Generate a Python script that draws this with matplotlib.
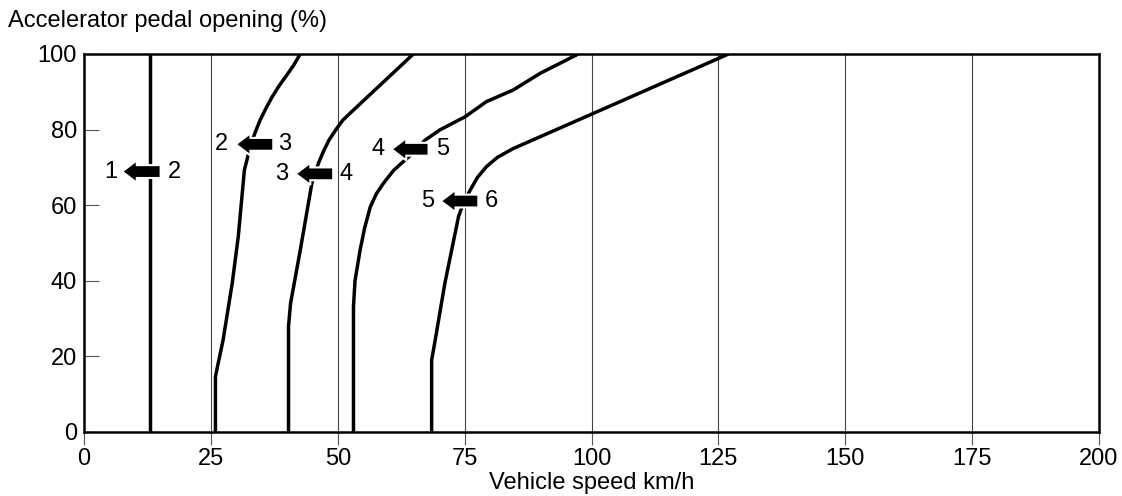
import matplotlib
matplotlib.use("Agg")
import matplotlib.pyplot as plt
from matplotlib.patches import FancyArrow

plt.rcParams['font.family'] = ['Liberation Sans', 'DejaVu Sans']

# Shift lines: vehicle speed (km/h) vs accelerator pedal opening (%)
s12_x = [13.0, 13.0]
s12_y = [0, 100]

s23_x = [25.9, 25.9, 26.3, 27.4, 29.2, 30.4, 31.6, 32.3, 33.0, 33.8, 34.7, 35.8,
         37.0, 38.4, 40.0, 41.3, 42.6]
s23_y = [0, 14.6, 17.3, 24.3, 39.3, 51.7, 69.3, 73.0, 76.5, 79.5, 82.5, 85.5,
         88.5, 91.5, 94.5, 97.0, 100]

s34_x = [40.3, 40.3, 40.7, 42.6, 44.9, 46.2, 47.2, 48.3, 49.8, 51.0, 52.4, 64.9]
s34_y = [0, 28.0, 34.0, 48.0, 65.8, 71.1, 74.3, 77.3, 80.3, 82.5, 84.3, 100]

s45_x = [53.1, 53.1, 53.4, 54.4, 55.3, 56.4, 57.6, 59.0, 61.0, 63.3, 65.0, 67.2, 70.1,
         75.1, 79.3, 84.6, 89.9, 97.4]
s45_y = [0, 33.2, 40.0, 48.1, 54.0, 59.5, 63.0, 65.8, 69.2, 72.0, 74.0, 77.2, 79.9,
         83.4, 87.4, 90.5, 94.9, 100]

s56_x = [68.5, 68.5, 69.2, 71.1, 73.8, 74.6, 76.1, 77.5, 79.3, 81.5, 84.6, 127.0]
s56_y = [0, 19.0, 24.3, 39.3, 57.0, 60.0, 64.0, 67.3, 70.2, 72.7, 75.0, 100]

# Shift arrows (downshift direction): y level, tail x, head x, gear labels
arrow_y = [68.9, 76.1, 68.3, 74.8, 61.1]
arrow_tail = [15.1, 37.3, 49.1, 67.9, 77.7]
arrow_head = [7.5, 29.9, 41.7, 60.6, 70.3]
gear_low = ["1", "2", "3", "4", "5"]
gear_high = ["2", "3", "4", "5", "6"]
low_x = [5.3, 27.1, 39.0, 58.0, 67.7]
high_x = [17.9, 39.6, 51.6, 70.6, 80.3]

x_ticks = [0, 25, 50, 75, 100, 125, 150, 175, 200]
y_ticks = [0, 20, 40, 60, 80, 100]

fig = plt.figure(figsize=(11.22, 4.96), dpi=100)
ax = fig.add_axes([84 / 1122, 1 - 432 / 496, (1099 - 84) / 1122, (432 - 54) / 496])

ax.set_xlim(0, 200)
ax.set_ylim(0, 100)
ax.set_xticks(x_ticks)
ax.set_yticks(y_ticks)
ax.set_xticklabels([str(t) for t in x_ticks], fontsize=17)
ax.set_yticklabels([str(t) for t in y_ticks], fontsize=17)
ax.tick_params(axis='x', direction='out', length=9.5, width=0.8, color='#555555', pad=2)
ax.tick_params(axis='y', direction='in', length=11, width=0.8, color='#555555', pad=5)

for gx in x_ticks[1:-1]:
    ax.axvline(gx, color='#444444', lw=0.8, zorder=1)

for s in ax.spines.values():
    s.set_linewidth(1.8)
    s.set_color('black')
    s.set_zorder(5)

for xs, ys in [(s12_x, s12_y), (s23_x, s23_y), (s34_x, s34_y), (s45_x, s45_y), (s56_x, s56_y)]:
    ax.plot(xs, ys, color='black', lw=2.5, solid_capstyle='butt', solid_joinstyle='round', zorder=3)

for yv, xt, xh, gl, gh, lx, hx in zip(arrow_y, arrow_tail, arrow_head, gear_low, gear_high, low_x, high_x):
    arr = FancyArrow(xt, yv, xh - xt, 0, width=3.4, head_width=5.9, head_length=2.9,
                     length_includes_head=True, fc='black', ec='white', lw=1.5,
                     joinstyle='miter', zorder=4)
    ax.add_patch(arr)
    ax.text(lx, yv, gl, fontsize=17, ha='center', va='center', zorder=6)
    ax.text(hx, yv, gh, fontsize=17, ha='center', va='center', zorder=6)

fig.text(8 / 1122, 1 - 27.5 / 496, "Accelerator pedal opening (%)", fontsize=17,
         ha='left', va='baseline')
ax.text(100, -(489 - 432) / 378, "Vehicle speed km/h", fontsize=17, ha='center', va='baseline',
        transform=ax.get_xaxis_transform())

fig.savefig("out.png", dpi=100)
